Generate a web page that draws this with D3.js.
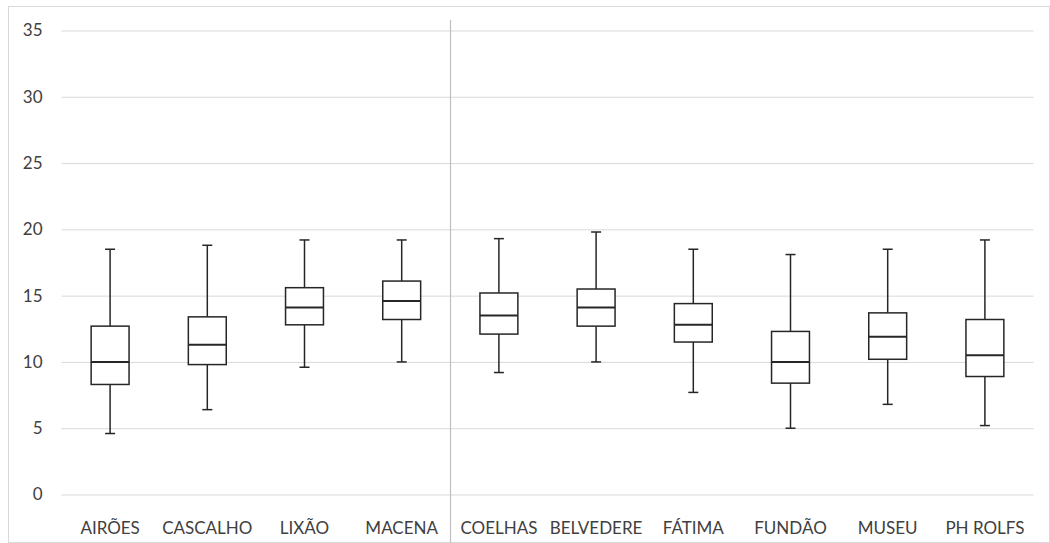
<!DOCTYPE html>
<html><head><meta charset="utf-8">
<script src="https://cdn.jsdelivr.net/npm/d3@7"></script>
<style>
html,body{margin:0;padding:0;background:#fff;}
svg{display:block;font-family:Lato,"Open Sans",sans-serif;}
</style></head>
<body><svg id="c" width="1050" height="543"></svg>
<script>
const categories = ["AIRÕES","CASCALHO","LIXÃO","MACENA","COELHAS","BELVEDERE","FÁTIMA","FUNDÃO","MUSEU","PH ROLFS"];
const whiskerMin = [4.6, 6.4, 9.6, 10.0, 9.2, 10.0, 7.7, 5.0, 6.8, 5.2];
const quartile1  = [8.3, 9.8, 12.8, 13.2, 12.1, 12.7, 11.5, 8.4, 10.2, 8.9];
const medians    = [10.0, 11.3, 14.1, 14.6, 13.5, 14.1, 12.8, 10.0, 11.9, 10.5];
const quartile3  = [12.7, 13.4, 15.6, 16.1, 15.2, 15.5, 14.4, 12.3, 13.7, 13.2];
const whiskerMax = [18.5, 18.8, 19.2, 19.2, 19.3, 19.8, 18.5, 18.1, 18.5, 19.2];
const yTicks = [0, 5, 10, 15, 20, 25, 30, 35];
const groupBreakBefore = "COELHAS";

(function(){
const svg = d3.select("#c");
const W = 1050, H = 543;
const pLeft = 61.5, pRight = 1033.5, pTop = 30.5, pBottom = 494.5;
const txt = "#404040", font = "Lato, 'Open Sans', sans-serif";

svg.append("rect").attr("x",8.5).attr("y",6.5).attr("width",W-9).attr("height",H-7)
  .attr("fill","none").attr("stroke","#d9d9d9").attr("stroke-width",1);

const x = d3.scaleBand().domain(categories).range([pLeft, pRight]).paddingInner(0).paddingOuter(0);
const y = d3.scaleLinear().domain([0, 35]).range([pBottom, pTop]);

const ya = svg.append("g").attr("transform", `translate(${pLeft},0)`)
  .call(d3.axisLeft(y).tickValues(yTicks).tickSize(-(pRight-pLeft)).tickPadding(19));
ya.select(".domain").remove();
ya.selectAll(".tick line").attr("stroke","#d9d9d9").attr("stroke-width",1);
ya.selectAll(".tick text").attr("fill",txt).style("font-size","17px").style("font-family",font);

const xa = svg.append("g").attr("transform", `translate(0,${pBottom})`)
  .call(d3.axisBottom(x).tickSize(0).tickPadding(27));
xa.select(".domain").remove();
xa.selectAll(".tick text").attr("fill",txt).style("font-size","17px").style("font-family",font);

const sepX = Math.round(x(groupBreakBefore)) + 0.5;
svg.append("line").attr("x1",sepX).attr("x2",sepX).attr("y1",20).attr("y2",H)
  .attr("stroke","#bfbfbf").attr("stroke-width",1.2);

const data = categories.map((c,i)=>({c, lo:whiskerMin[i], q1:quartile1[i], med:medians[i], q3:quartile3[i], hi:whiskerMax[i]}));
const bw = x.bandwidth()*0.39, cap = 10;
const g = svg.append("g").selectAll("g").data(data).join("g")
  .attr("transform", d=>`translate(${x(d.c)+x.bandwidth()/2},0)`);
const ink = "#262626";
g.append("line").attr("x1",0).attr("x2",0).attr("y1",d=>y(d.hi)).attr("y2",d=>y(d.q3)).attr("stroke",ink).attr("stroke-width",1.5);
g.append("line").attr("x1",0).attr("x2",0).attr("y1",d=>y(d.q1)).attr("y2",d=>y(d.lo)).attr("stroke",ink).attr("stroke-width",1.5);
g.append("line").attr("x1",-cap/2).attr("x2",cap/2).attr("y1",d=>y(d.hi)).attr("y2",d=>y(d.hi)).attr("stroke",ink).attr("stroke-width",1.5);
g.append("line").attr("x1",-cap/2).attr("x2",cap/2).attr("y1",d=>y(d.lo)).attr("y2",d=>y(d.lo)).attr("stroke",ink).attr("stroke-width",1.5);
g.append("rect").attr("x",-bw/2).attr("width",bw).attr("y",d=>y(d.q3)).attr("height",d=>y(d.q1)-y(d.q3))
  .attr("fill","#fff").attr("stroke",ink).attr("stroke-width",1.5);
g.append("line").attr("x1",-bw/2).attr("x2",bw/2).attr("y1",d=>y(d.med)).attr("y2",d=>y(d.med)).attr("stroke",ink).attr("stroke-width",2);
})();
</script></body></html>
